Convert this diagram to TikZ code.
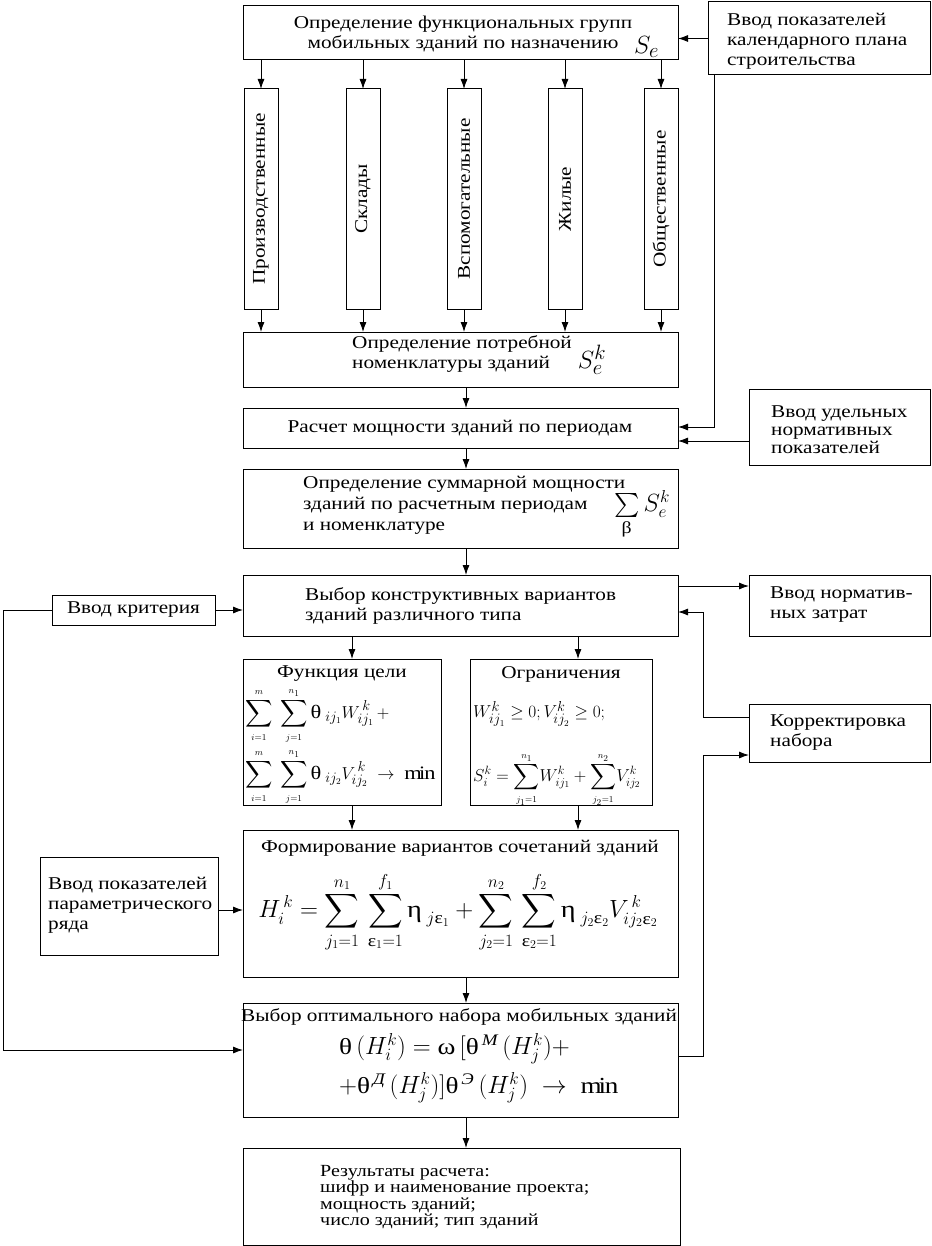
\documentclass[tikz,border=0pt]{standalone}
\usepackage{amsmath,amssymb}
\usepackage{fontspec}
\setmainfont{Liberation Serif}[FakeStretch=1.18]
\usetikzlibrary{arrows.meta,calc}
\newcommand{\mytheta}{\text{θ}}
\newcommand{\myeta}{\text{η}}
\newcommand{\myomega}{\text{ω}}
\newcommand{\myeps}{\text{ε}}
\newcommand{\mybeta}{\text{β}}
\newcommand{\ssl}[1]{{\scriptscriptstyle #1}}
\begin{document}
\begin{tikzpicture}[x=1pt,y=-1pt,
  box/.style={draw,line width=1pt,inner sep=0pt,outer sep=0pt},
  txt/.style={inner sep=0pt,align=left,font=\fontsize{18}{20}\selectfont},
  ctxt/.style={inner sep=0pt,align=center,font=\fontsize{18}{20}\selectfont},
  mth/.style={inner sep=0pt,font=\fontsize{19}{19}\selectfont},
  arr/.style={-{Latex[length=10pt,width=7pt]},line width=0.9pt}]
\useasboundingbox (0,0) rectangle (931,1246);
\fill[white] (0,0) rectangle (931,1246);
% boxes
\node[box,minimum width=435pt,minimum height=54pt] (top) at (460.5,33) {};
\node[box,minimum width=222pt,minimum height=73pt] (cal) at (819,38.5) {};
\node[box,minimum width=34pt,minimum height=220pt] (v1) at (261,199) {};
\node[box,minimum width=34pt,minimum height=220pt] (v2) at (363,199) {};
\node[box,minimum width=34pt,minimum height=220pt] (v3) at (464,199) {};
\node[box,minimum width=34pt,minimum height=220pt] (v4) at (565,199) {};
\node[box,minimum width=34pt,minimum height=220pt] (v5) at (661,199) {};
\node[box,minimum width=435pt,minimum height=55pt] (nom) at (460.5,359.5) {};
\node[box,minimum width=435pt,minimum height=40pt] (rasch) at (460.5,428) {};
\node[box,minimum width=181pt,minimum height=76pt] (ud) at (839.5,427) {};
\node[box,minimum width=435pt,minimum height=79pt] (sum) at (460.5,508.5) {};
\node[box,minimum width=435pt,minimum height=61pt] (vybor) at (460.5,605.5) {};
\node[box,minimum width=163pt,minimum height=30pt] (krit) at (133.5,610) {};
\node[box,minimum width=181pt,minimum height=61pt] (norm) at (839.5,605.5) {};
\node[box,minimum width=198pt,minimum height=146pt] (func) at (342,732) {};
\node[box,minimum width=182pt,minimum height=146pt] (ogr) at (561,732) {};
\node[box,minimum width=181pt,minimum height=58pt] (korr) at (839.5,733) {};
\node[box,minimum width=435pt,minimum height=147pt] (form) at (460.5,903.5) {};
\node[box,minimum width=178pt,minimum height=98pt] (param) at (129,906) {};
\node[box,minimum width=435pt,minimum height=114pt] (opt) at (460.5,1060) {};
\node[box,minimum width=437pt,minimum height=97pt] (res) at (461.5,1196.5) {};
% texts
\node[ctxt] (topT) at (463,34) {Определение функциональных групп\\мобильных зданий по назначению};
\node[inner sep=0pt,anchor=west,font=\fontsize{32}{32}\selectfont] (topS) at (634,47) {$S_e$};
\node[txt,anchor=west] (calT) at (727,41) {Ввод показателей\\календарного плана\\строительства};
\node[ctxt,rotate=90] (v1T) at (v1) {Производственные};
\node[ctxt,rotate=90] (v2T) at (v2) {Склады};
\node[ctxt,rotate=90] (v3T) at (v3) {Вспомогательные};
\node[ctxt,rotate=90] (v4T) at (v4) {Жилые};
\node[ctxt,rotate=90] (v5T) at (v5) {Общественные};
\node[txt,anchor=west] (nomT) at (352,354) {Определение потребной\\номенклатуры зданий};
\node[inner sep=0pt,font=\fontsize{32}{32}\selectfont] (nomS) at (592,360) {$S_e^k$};
\node[ctxt] (raschT) at (460,428) {Расчет мощности зданий по периодам};
\node[txt,anchor=west,font=\fontsize{18}{18}\selectfont] (udT) at (771,430) {Ввод удельных\\нормативных\\показателей};
\node[txt,anchor=west,font=\fontsize{18}{21}\selectfont] (sumT) at (303,505) {Определение суммарной мощности\\зданий по расчетным периодам\\и номенклатуре};
\node[inner sep=0pt,font=\fontsize{24}{24}\selectfont] (sumF) at (642,515) {$\sum\limits_{\mybeta}S_e^k$};
\node[txt,anchor=west] (vyborT) at (305,606) {Выбор конструктивных вариантов\\зданий различного типа};
\node[ctxt] (kritT) at (krit) {Ввод критерия};
\node[txt,anchor=west] (normT) at (770,605) {Ввод норматив-\\ных затрат};
\node[txt,anchor=west] (korrT) at (770,732.5) {Корректировка\\набора};
\node[ctxt] (funcT) at (342,674) {Функция цели};
\node[mth,anchor=west] (funcF1) at (245,716) {$\displaystyle\sum_{\ssl{i=1}}^{\ssl{m}}\;\sum_{\ssl{j=1}}^{\ssl{n_1}}\mytheta_{\;ij_1}W_{ij_1}^{\,k}\,+$};
\node[mth,anchor=west] (funcF2) at (245,777) {$\displaystyle\sum_{\ssl{i=1}}^{\ssl{m}}\;\sum_{\ssl{j=1}}^{\ssl{n_1}}\mytheta_{\;ij_2}V_{ij_2}^{\,k}\;\to\;\min$};
\node[ctxt] (ogrT) at (561,674) {Ограничения};
\node[mth,anchor=west] (ogrF1) at (473,714) {$W_{ij_1}^{k}\geq 0;V_{ij_2}^{k}\geq 0;$};
\node[mth,anchor=west,font=\fontsize{18}{18}\selectfont] (ogrF2) at (473,780) {$\displaystyle S_i^k=\sum_{\ssl{j_1=1}}^{\ssl{n_1}}\!W_{ij_1}^{k}+\sum_{\ssl{j_2=1}}^{\ssl{n_2}}\!V_{ij_2}^{k}$};
\node[ctxt] (formT) at (460,848) {Формирование вариантов сочетаний зданий};
\node[inner sep=0pt,font=\fontsize{24}{24}\selectfont] (formF) at (458,912) {$\displaystyle H_i^{\,k}=\sum_{j_1=1}^{n_1}\,\sum_{\myeps_1=1}^{f_1}\myeta_{\;j\myeps_1}+\sum_{j_2=1}^{n_2}\,\sum_{\myeps_2=1}^{f_2}\myeta_{\;j_2\myeps_2}V_{ij_2\myeps_2}^{\,k}$};
\node[txt,anchor=west] (paramT) at (48,905) {Ввод показателей\\параметрического\\ряда};
\node[ctxt] (optT) at (459,1017) {Выбор оптимального набора мобильных зданий};
\node[inner sep=0pt,anchor=west,font=\fontsize{23}{23}\selectfont] (optF1) at (339,1049) {$\mytheta\,(H_i^k)=\myomega\,[\mytheta^{\,\text{\itshape М}}\,(H_j^k)+$};
\node[inner sep=0pt,anchor=west,font=\fontsize{23}{23}\selectfont] (optF2) at (339,1088) {$+\mytheta^{\,\text{\itshape Д}}\,(H_j^k)]\mytheta^{\,\text{\itshape Э}}\,(H_j^k)\;\to\;\min$};
\node[txt,anchor=west,font=\fontsize{17}{16.5}\selectfont] (resT) at (320,1197) {Результаты расчета:\\шифр и наименование проекта;\\мощность зданий;\\число зданий; тип зданий};
% helper coordinates
\coordinate (mx) at (466,0);
\coordinate (fx) at (352,0);
\coordinate (gx) at (578,0);
\coordinate (rx) at (703,0);
\coordinate (y427) at (0,427);
\coordinate (y441) at (0,441);
\coordinate (ny) at (0,586);
\coordinate (vy) at (0,612);
\coordinate (ky1) at (0,717);
\coordinate (ky2) at (0,755);
\coordinate (oy) at (0,1056);
\coordinate (py) at (0,910);
\coordinate (lb) at (3,1050);
\coordinate (calx) at ($(cal.south west)+(6,0)$);
% connectors
\draw[arr] (cal.west) -- (cal.west -| top.east);
\foreach \v in {v1,v2,v3,v4,v5}{
  \draw[arr] (\v.north |- top.south) -- (\v.north);
  \draw[arr] (\v.south) -- (\v.south |- nom.north);
}
\draw[arr] (calx) -- (calx |- y427) -- (rasch.east |- y427);
\draw[arr] (ud.west |- y441) -- (rasch.east |- y441);
\draw[arr] (mx |- nom.south) -- (mx |- rasch.north);
\draw[arr] (mx |- rasch.south) -- (mx |- sum.north);
\draw[arr] (mx |- sum.south) -- (mx |- vybor.north);
\draw[arr] (krit.east) -- (krit.east -| vybor.west);
\draw[arr] (vybor.east |- ny) -- (norm.west |- ny);
\draw[arr] (korr.west |- ky1) -- (rx |- ky1) -- (rx |- vy) -- (vybor.east |- vy);
\draw[arr] (fx |- vybor.south) -- (fx |- func.north);
\draw[arr] (gx |- vybor.south) -- (gx |- ogr.north);
\draw[arr] (fx |- func.south) -- (fx |- form.north);
\draw[arr] (gx |- ogr.south) -- (gx |- form.north);
\draw[arr] (param.east |- py) -- (form.west |- py);
\draw[arr] (mx |- form.south) -- (mx |- opt.north);
\draw[arr] (krit.west) -| (lb) -- (lb -| opt.west);
\draw[arr] (opt.east |- oy) -- (rx |- oy) -- (rx |- ky2) -- (korr.west |- ky2);
\draw[arr] (mx |- opt.south) -- (mx |- res.north);
\end{tikzpicture}
\end{document}
